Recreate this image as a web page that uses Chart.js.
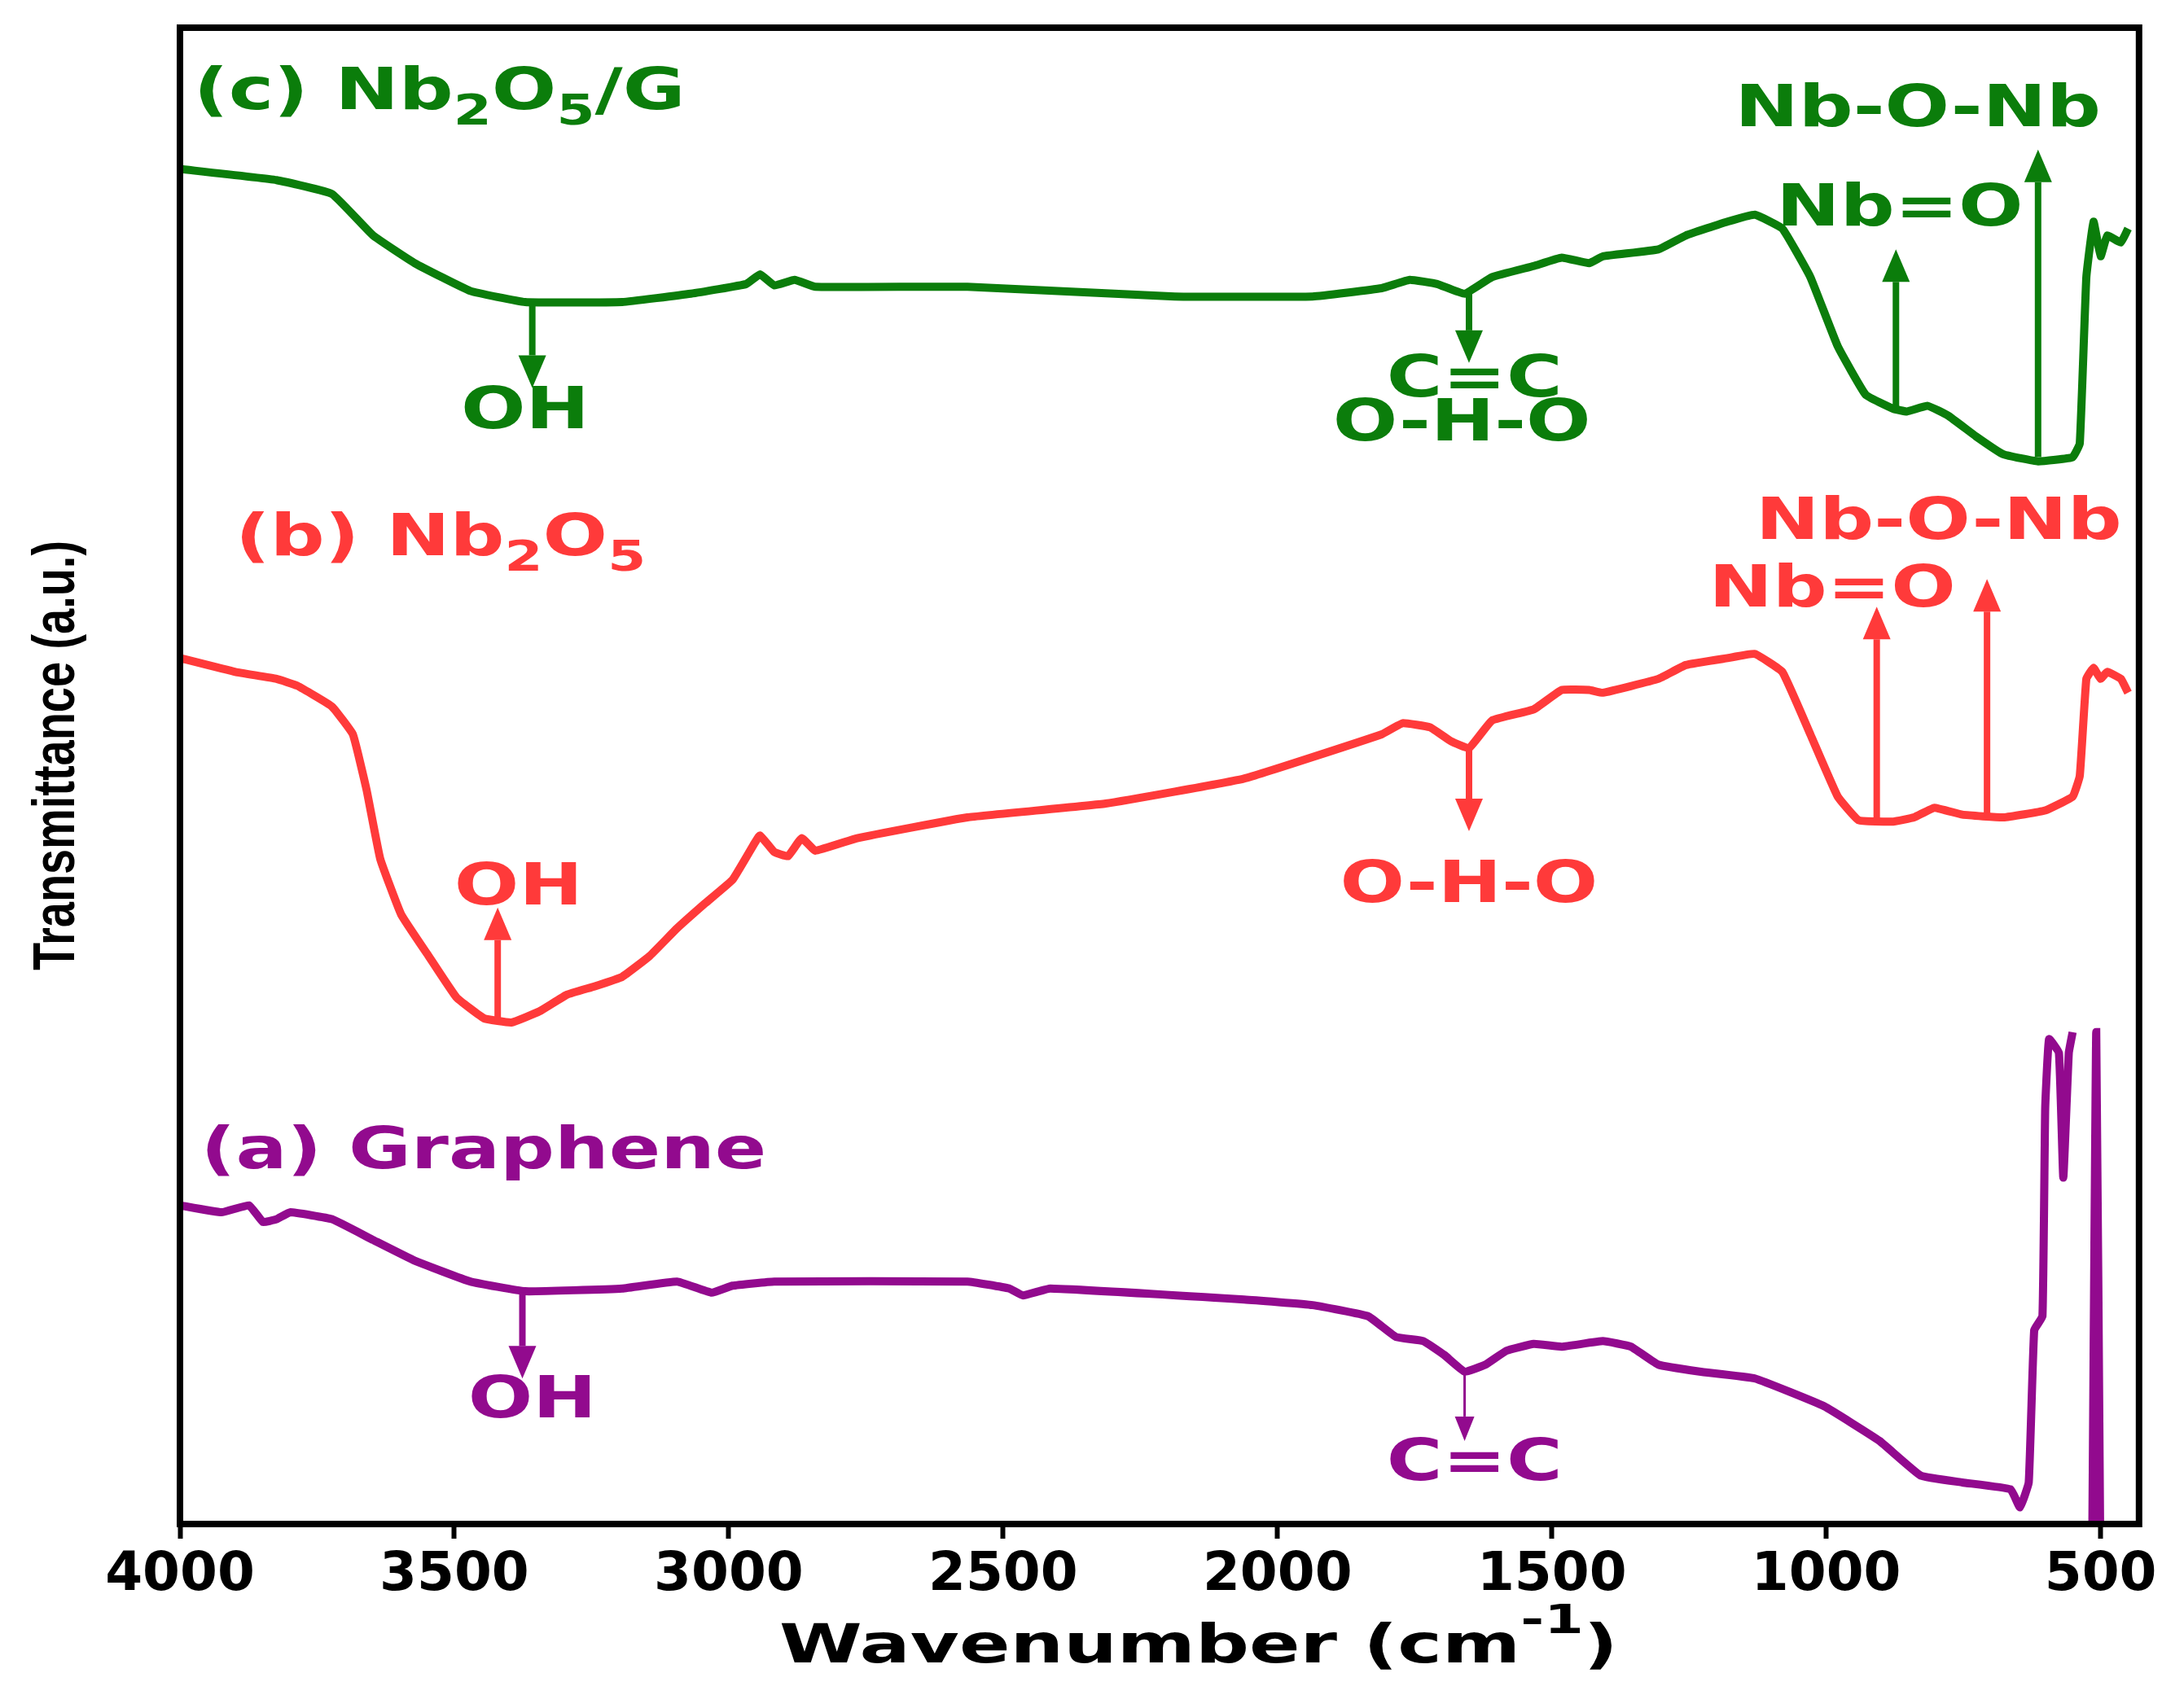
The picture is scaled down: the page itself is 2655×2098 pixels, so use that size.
<!DOCTYPE html>
<html><head><meta charset="utf-8">
<script src="https://cdn.jsdelivr.net/npm/chart.js@4"></script>
<style>html,body{margin:0;padding:0;background:#fff}#w{width:2655px;height:2098px}</style>
</head><body><div id="w"><canvas id="c"></canvas></div>
<script>
const wnG=[4000,3824,3723,3648,3572,3471,3371,3194,3069,2968,2943,2917,2880,2842,2565,2187,1936,1810,1759,1709,1659,1609,1533,1482,1432,1407,1306,1256,1180,1130,1080,1029,979,928,878,853,815,778,727,677,614,551,538,526,513,500,488,463,450];
const tG=[978,970,960,930,910,890,882,882,888,895,902,894,898,893,893,886,886,892,898,895,888,900,908,914,910,915,920,930,940,945,935,900,850,815,805,803,807,800,785,772,767,770,780,900,940,915,930,925,935];
const wnR=[4000,3899,3824,3786,3723,3685,3660,3635,3597,3547,3496,3446,3396,3345,3295,3245,3194,3144,3094,3043,2993,2955,2943,2917,2892,2867,2842,2766,2565,2313,2061,1810,1772,1722,1684,1651,1609,1533,1482,1432,1407,1306,1256,1180,1130,1080,1029,979,941,878,840,803,752,677,601,551,538,526,513,500,488,463,450];
const tR=[625,615,610,605,590,570,530,480,440,410,380,365,362,370,382,388,395,410,430,448,465,490,497,485,482,495,486,495,510,520,538,570,578,575,565,560,580,588,602,602,600,610,620,625,628,615,570,525,508,507,510,517,512,510,515,525,540,610,618,610,615,610,600];
const wnA=[4000,3924,3874,3849,3824,3799,3723,3648,3572,3471,3371,3194,3094,3031,2993,2917,2565,2489,2464,2414,2061,1936,1835,1784,1734,1696,1659,1621,1583,1533,1482,1407,1356,1306,1231,1130,1004,903,828,752,664,647,631,621,606,601,594,576,568,558,551,549,515,508,501];
const tA=[230,225,230,218,220,225,220,205,190,175,168,170,175,167,172,175,175,170,165,170,162,158,150,135,132,122,110,115,125,130,128,132,128,115,110,105,85,60,35,30,25,12,30,140,150,300,350,340,250,340,355,null,0,355,0];
const xTicks=[4000,3500,3000,2500,2000,1500,1000,500];
const labels=[
 {t:"(c) Nb_2O_5/G",x:3975,y:1032,c:"#0b7d0b",a:"left"},
 {t:"OH",x:3371,y:802,c:"#0b7d0b"},{t:"C=C",x:1641,y:825,c:"#0b7d0b"},{t:"O-H-O",x:1664,y:793,c:"#0b7d0b"},
 {t:"Nb=O",x:866,y:948,c:"#0b7d0b"},{t:"Nb-O-Nb",x:833,y:1020,c:"#0b7d0b"},
 {t:"(b) Nb_2O_5",x:3899,y:710,c:"#ff3a3a",a:"left"},
 {t:"OH",x:3383,y:458,c:"#ff3a3a"},{t:"O-H-O",x:1651,y:460,c:"#ff3a3a"},
 {t:"Nb=O",x:989,y:673,c:"#ff3a3a"},{t:"Nb-O-Nb",x:795,y:722,c:"#ff3a3a"},
 {t:"(a) Graphene",x:3962,y:268,c:"#920a8e",a:"left"},
 {t:"OH",x:3358,y:88,c:"#920a8e"},{t:"C=C",x:1641,y:43,c:"#920a8e"}];
const arrows=[
 {x:3358,f:880,to:820,c:"#0b7d0b",w:8},{x:1651,f:890,to:838,c:"#0b7d0b",w:8},{x:873,f:805,to:920,c:"#0b7d0b",w:8},{x:614,f:770,to:992,c:"#0b7d0b",w:8},
 {x:3421,f:362,to:445,c:"#ff3a3a",w:8},{x:1651,f:560,to:500,c:"#ff3a3a",w:8},{x:908,f:508,to:662,c:"#ff3a3a",w:8},{x:707,f:510,to:682,c:"#ff3a3a",w:8},
 {x:3376,f:167,to:105,c:"#920a8e",w:8},{x:1659,f:110,to:60,c:"#920a8e",w:3}];
const pts=(a,b)=>a.map((x,i)=>({x:x,y:b[i]}));
const FONT='bold 72px "DejaVu Sans"', SX=1.3;
function rich(ctx,s,x,y,align){
 const parts=[];let re=/_(\d)/g,last=0,m;
 while((m=re.exec(s))){parts.push([s.slice(last,m.index),0]);parts.push([m[1],1]);last=re.lastIndex;}
 parts.push([s.slice(last),0]);
 const fs=f=>f?'bold 52px "DejaVu Sans"':FONT;
 let w=0;parts.forEach(p=>{ctx.font=fs(p[1]);w+=ctx.measureText(p[0]).width;});
 ctx.save();ctx.translate(align==="left"?x:x-w*SX/2,y);ctx.scale(SX,1);
 let cx=0;ctx.textBaseline="middle";ctx.textAlign="left";
 parts.forEach(p=>{ctx.font=fs(p[1]);ctx.fillText(p[0],cx,p[1]?24:0);cx+=ctx.measureText(p[0]).width;});
 ctx.restore();
}
const deco={id:"deco",afterDatasetsDraw(ch){
 const ctx=ch.ctx,xs=ch.scales.x,ys=ch.scales.y,ca=ch.chartArea;
 ctx.save();
 arrows.forEach(a=>{const X=xs.getPixelForValue(a.x),Y0=ys.getPixelForValue(a.f),Y1=ys.getPixelForValue(a.to);
  const d=Y1>Y0?1:-1,hw=a.w>5?17:12,hl=a.w>5?40:30;
  ctx.strokeStyle=a.c;ctx.fillStyle=a.c;ctx.lineWidth=a.w;ctx.beginPath();ctx.moveTo(X,Y0);ctx.lineTo(X,Y1-d*hl);ctx.stroke();
  ctx.beginPath();ctx.moveTo(X,Y1);ctx.lineTo(X-hw,Y1-d*hl);ctx.lineTo(X+hw,Y1-d*hl);ctx.closePath();ctx.fill();});
 labels.forEach(l=>{ctx.fillStyle=l.c;rich(ctx,l.t,xs.getPixelForValue(l.x),ys.getPixelForValue(l.y),l.a);});
 ctx.strokeStyle="#000";ctx.lineWidth=8;ctx.strokeRect(ca.left,ca.top,ca.right-ca.left,ca.bottom-ca.top);
 ctx.fillStyle="#000";
 ctx.save();ctx.translate(71,928);ctx.rotate(-Math.PI/2);ctx.font='bold 72px "Liberation Sans Narrow","Liberation Sans"';
 let tw=ctx.measureText("Transmittance (a.u.)").width;ctx.scale(528/tw,1);ctx.textAlign="center";ctx.textBaseline="middle";ctx.fillText("Transmittance (a.u.)",0,0);ctx.restore();
 ctx.save();ctx.font='bold 66px "DejaVu Sans"';const a1="Wavenumber (cm",s1="-1",b1=")";
 const w1=ctx.measureText(a1).width,w3=ctx.measureText(b1).width;ctx.font='bold 50px "DejaVu Sans"';const w2=ctx.measureText(s1).width;
 const tot=w1+w2+w3,sc=1030/tot;ctx.translate(1472-515,2042);ctx.scale(sc,1);ctx.textAlign="left";ctx.textBaseline="alphabetic";
 ctx.font='bold 66px "DejaVu Sans"';ctx.fillText(a1,0,0);ctx.font='bold 50px "DejaVu Sans"';ctx.fillText(s1,w1,-36);ctx.font='bold 66px "DejaVu Sans"';ctx.fillText(b1,w1+w2,0);ctx.restore();
 ctx.restore();}};
const ds=(d,c)=>({data:d,borderColor:c,borderWidth:10,pointRadius:0,tension:0.1,spanGaps:false,fill:false});
new Chart(document.getElementById("c"),{type:"line",
 data:{datasets:[ds(pts(wnG,tG),"#0b7d0b"),ds(pts(wnR,tR),"#ff3a3a"),ds(pts(wnA,tA),"#920a8e")]},
 plugins:[deco],
 options:{responsive:true,maintainAspectRatio:false,animation:false,devicePixelRatio:1,
  layout:{padding:{left:221,top:34,right:25,bottom:0}},
  plugins:{legend:{display:false},tooltip:{enabled:false}},
  scales:{
   x:{type:"linear",reverse:true,min:430,max:4000,
    afterBuildTicks:s=>{s.ticks=xTicks.map(v=>({value:v}));},
    afterFit:s=>{s.height=226;},
    grid:{drawOnChartArea:false,tickLength:18,tickWidth:6,color:"#000"},border:{display:false},
    ticks:{color:"#000",font:{family:"DejaVu Sans",weight:"bold",size:66},padding:6,maxRotation:0,autoSkip:false,callback:v=>String(v)}},
   y:{display:false,min:0,max:1080}}}});
</script></body></html>
